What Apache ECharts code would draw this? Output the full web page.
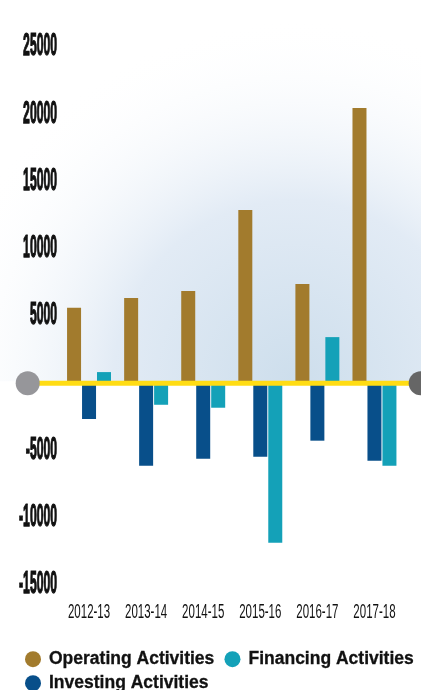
<!DOCTYPE html>
<html>
<head>
<meta charset="utf-8">
<script src="https://cdn.jsdelivr.net/npm/echarts@6/dist/echarts.min.js"></script>
<style>html,body{margin:0;padding:0;background:#fff}#c{width:421px;height:690px}</style>
</head>
<body>
<div id="c"></div>
<script>
var categories = ['2012-13', '2013-14', '2014-15', '2015-16', '2016-17', '2017-18'];
var operating = [5610, 6330, 6850, 12880, 7380, 20460];
var investing = [-2660, -6130, -5610, -5460, -4270, -5760];
var financing = [830, -1600, -1820, -11860, 3430, -6130];
var yTicks = ['25000', '20000', '15000', '10000', '5000', '', '-5000', '-10000', '-15000'];

var sans = "'Liberation Sans', Arial, sans-serif";
var chart = echarts.init(document.getElementById('c'), null, {renderer: 'canvas'});

var option = {
  animation: false,
  backgroundColor: '#ffffff',
  grid: {left: 60.5, right: 18, top: 47, bottom: 105, containLabel: false},
  legend: [
    {data: ['Operating Activities', 'Financing Activities'], left: 25, top: 650, padding: 0,
     itemWidth: 22, itemHeight: 16, itemGap: 10, icon: 'circle',
     textStyle: {fontFamily: sans, fontWeight: 'bold', fontSize: 17.5, color: '#111',
                 textBorderColor: '#111', textBorderWidth: 0.3}},
    {data: ['Investing Activities'], left: 25, top: 674, padding: 0,
     itemWidth: 22, itemHeight: 16, itemGap: 10, icon: 'circle',
     textStyle: {fontFamily: sans, fontWeight: 'bold', fontSize: 17.5, color: '#111',
                 textBorderColor: '#111', textBorderWidth: 0.3}}
  ],
  xAxis: {
    type: 'category', data: categories,
    axisLine: {show: false}, axisTick: {show: false},
    axisLabel: {interval: 0, margin: 21, fontFamily: sans, fontSize: 11.5, color: '#111'}
  },
  yAxis: {
    type: 'value', min: -15000, max: 25000, interval: 5000,
    splitLine: {show: false}, axisLine: {show: false}, axisTick: {show: false},
    axisLabel: {
      margin: 3.5, fontFamily: sans, fontWeight: 'bold', fontSize: 12.2, color: '#111',
      textBorderColor: '#111', textBorderWidth: 0.5,
      padding: [0, 0, 22, 0],
      formatter: function (v) { return yTicks[yTicks.length - 1 - Math.round((v + 15000) / 5000)]; }
    }
  },
  series: [
    {name: 'Operating Activities', type: 'bar', data: operating, barWidth: 14, barGap: '7%',
     itemStyle: {color: '#A27B2D'}, z: 2},
    {name: 'Investing Activities', type: 'bar', data: investing, barWidth: 14, barGap: '7%',
     itemStyle: {color: '#084F8A'}, z: 2},
    {name: 'Financing Activities', type: 'bar', data: financing, barWidth: 14, barGap: '7%',
     itemStyle: {color: '#14A1B8'}, z: 2}
  ]
};
chart.setOption(option);

var zeroY = chart.convertToPixel({yAxisIndex: 0}, 0);
chart.setOption({
  graphic: [
    {type: 'rect', z: 0, silent: true,
     shape: {x: 0, y: 0, width: 421, height: zeroY - 2},
     style: {fill: {type: 'radial', x: 0.7, y: 1.0, r: 0.95, colorStops: [
       {offset: 0, color: '#cddeec'},
       {offset: 0.5, color: '#e2ebf5'},
       {offset: 1, color: 'rgba(255,255,255,0)'}]}}},
    {type: 'line', z: 10, silent: true,
     shape: {x1: 28, y1: zeroY, x2: 421, y2: zeroY},
     style: {stroke: '#FFDC14', lineWidth: 5}},
    {type: 'circle', z: 11, silent: true, shape: {cx: 27.7, cy: zeroY, r: 12}, style: {fill: '#96969A'}},
    {type: 'circle', z: 11, silent: true, shape: {cx: 420.7, cy: zeroY, r: 12}, style: {fill: '#666666'}}
  ]
});

// stretch axis texts vertically to imitate the tall condensed typeface
function stretch() {
  try {
    var zr = chart.getZr();
    var list = zr.storage.getDisplayList(true);
    var yset = {}, xset = {};
    yTicks.forEach(function (t) { if (t) yset[t] = 1; });
    categories.forEach(function (t) { xset[t] = 1; });
    list.forEach(function (el) {
      if (!el.style || el.style.text == null || el.__st) return;
      var t = String(el.style.text);
      var sy = 0;
      if (yset[t]) { sy = 2.5; }
      else if (xset[t]) { sy = 1.8; }
      if (!sy) return;
      el.__st = true;
      el.originX = el.style.x || 0;
      el.originY = el.style.y || 0;
      el.scaleY = sy;
      el.markRedraw();
    });
    zr.refresh();
  } catch (e) {}
}
stretch();
</script>
</body>
</html>
